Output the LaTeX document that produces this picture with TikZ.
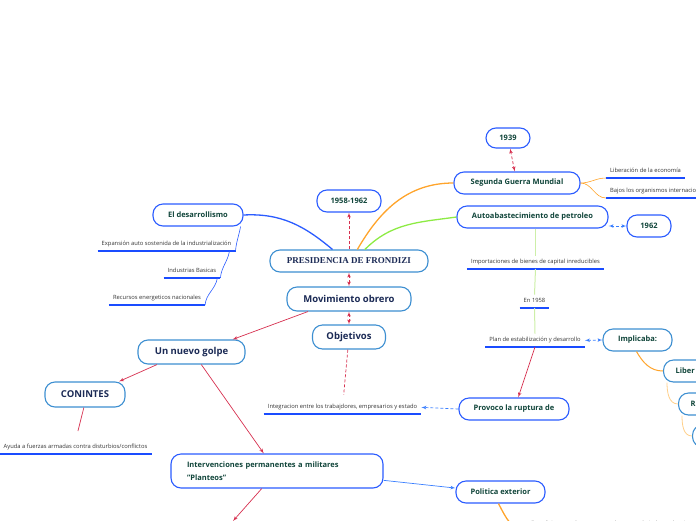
\documentclass[tikz,border=0pt]{standalone}
\usepackage{fontspec}
\setmainfont{Open Sans}
\newfontfamily\presfont{Liberation Serif}
\usepackage{tikz}
\usetikzlibrary{arrows}

\definecolor{boxblue}{HTML}{2B5CFF}
\definecolor{lightblue}{HTML}{3D8FD1}
\definecolor{darkgreen}{HTML}{10453A}
\definecolor{navy}{HTML}{1B2A55}
\definecolor{redline}{HTML}{D6304F}
\definecolor{orangeline}{HTML}{FFA42B}
\definecolor{paleorange}{HTML}{FFD08A}
\definecolor{greenline}{HTML}{8DEB44}
\definecolor{palegreen}{HTML}{CDEFA8}
\definecolor{ulblue}{HTML}{1A4CFF}
\definecolor{linkblue}{HTML}{3A7FFF}

\begin{document}
\begin{tikzpicture}[x=1pt, y=-1pt]
			\tikzset{topic/.style={draw=boxblue, line width=1.1pt, rounded corners=10pt, fill=white, minimum height=22pt, inner sep=2pt, text=darkgreen, font=\fontsize{7.5}{9}\selectfont\bfseries}}
			\tikzset{topicb/.style={topic, draw=lightblue}}
			\tikzset{main/.style={topic, draw=lightblue, text=navy, minimum height=24pt, font=\fontsize{9.5}{11}\selectfont\bfseries}}
			\tikzset{note/.style={inner xsep=4pt, inner ysep=3.6pt, text height=4.4pt, text depth=1.3pt, text=black!80, font=\fontsize{5.8}{7}\selectfont,
					append after command={(\tikzlastnode.south west) edge[draw=ulblue, line width=1.4pt] (\tikzlastnode.south east)}}}
			\tikzset{branch/.style={line width=1.3pt}}
			\tikzset{twig/.style={line width=0.6pt}}
			\tikzset{link/.style={->, >=latex', redline, line width=0.7pt}}
			\tikzset{dashlink/.style={link, dash pattern=on 3pt off 2pt}}
			\useasboundingbox (0,0) rectangle (696,520);
			%vertices
			\node[main, minimum width=158pt, minimum height=22pt, font=\fontsize{9}{10}\selectfont\presfont\bfseries] (pres) at (349,261) {PRESIDENCIA DE FRONDIZI};
			\node[topic, minimum width=64pt] (years) at (349,201) {1958-1962};
			\node[main, minimum width=124pt] (obrero) at (349,299) {Movimiento obrero};
			\node[main, minimum width=73pt] (objetivos) at (349,337) {Objetivos};
			\node[topic, minimum width=90pt] (desarrollismo) at (198,215) {El desarrollismo};
			\node[note, anchor=south] (expansion) at (166.5,251) {Expansión auto sostenida de la industrialización};
			\node[note, anchor=south] (industrias) at (192,278) {Industrias Basicas};
			\node[note, anchor=south] (recursos) at (157,305) {Recursos energeticos nacionales};
			\node[topic, minimum width=44pt, minimum height=20pt] (y1939) at (508,138) {1939};
			\node[topic, minimum width=126pt] (guerra) at (517,183) {Segunda Guerra Mundial};
			\node[note, anchor=south west] (liberacion) at (606,178) {Liberación de la economía};
			\node[note, anchor=south west] (bajos) at (606,198) {Bajos los organismos internacionales};
			\node[topic, minimum width=151pt] (petroleo) at (532.5,217) {Autoabastecimiento de petroleo};
			\node[topic, minimum width=44pt] (y1962) at (649,226) {1962};
			\node[note, anchor=south] (importaciones) at (535.5,269) {Importaciones de bienes de capital inreducibles};
			\node[note, anchor=south] (en1958) at (534.5,308) {En 1958};
			\node[note, anchor=south] (plan) at (535,347) {Plan de estabilización y desarrollo};
			\node[topicb, minimum width=69pt] (implicaba) at (637.5,340) {Implicaba:};
			\node[topicb, anchor=west, text width=60pt, inner xsep=12pt, align=left] (liber) at (663,371) {Liber};
			\node[topicb, anchor=west, text width=60pt, inner xsep=12pt, align=left] (radic) at (678,404) {R};
			\node[topicb, anchor=west, minimum width=80pt] (third) at (692,436) {};
			\node[topic, minimum width=110pt] (ruptura) at (514,409) {Provoco la ruptura de};
			\node[note, anchor=south] (integracion) at (342.5,414) {Integracion entre los trabajdores, empresarios y estado};
			\node[main, minimum width=107pt] (golpe) at (191.5,352) {Un nuevo golpe};
			\node[main, minimum width=80pt, minimum height=25pt] (conintes) at (85,394.5) {CONINTES};
			\node[note, anchor=south] (ayuda) at (75.5,454) {Ayuda a fuerzas armadas contra disturbios/conflictos};
			\node[topic, text width=180pt, inner xsep=16pt, minimum height=34pt, align=left, font=\fontsize{7.5}{12.5}\selectfont\bfseries] (planteos) at (277,471) {Intervenciones permanentes a militares\\"Planteos"};
			\node[topic, minimum width=89pt] (exterior) at (500.5,492) {Politica exterior};
			\node[note, anchor=south west] (frondizi) at (527,531) {Frondizi procuraba mantener el margen de independencia};
			\coordinate (lowend) at (233,521);
			%edges
			\draw[branch, boxblue] (desarrollismo.east) to[out=3, in=140] (pres.145);
			\draw[branch, orangeline] (pres.54) to[out=60, in=180] (guerra.west);
			\draw[branch, greenline] (pres.36) to[out=45, in=188] (petroleo.west);
			\draw[twig, boxblue] ([xshift=-3pt]desarrollismo.south east) to[out=-100, in=85] (expansion.south east);
			\draw[twig, boxblue] ([xshift=-6pt]expansion.south east) to[out=-100, in=85] (industrias.south east);
			\draw[twig, boxblue] ([xshift=-3pt]industrias.south east) to[out=-100, in=85] (recursos.south east);
			\draw[dashlink] (pres) -- (years);
			\draw[dashlink, <->] (pres) -- (obrero);
			\draw[dashlink, <->] (obrero) -- (objetivos);
			\draw[dashlink, -, shorten >=6pt] (objetivos) -- (integracion);
			\draw[dashlink, <->] (y1939) -- (guerra);
			\draw[twig, orangeline] (guerra.east) to[out=0, in=180] (liberacion.south west);
			\draw[twig, orangeline] (guerra.east) to[out=0, in=180] (bajos.south west);
			\draw[dashlink, <->, linkblue] (petroleo.east |- y1962.west) -- (y1962.west);
			\draw[twig, palegreen, line width=1pt] (petroleo.south -| importaciones.north) -- (importaciones.north);
			\draw[twig, palegreen, line width=1pt] (importaciones.south) -- (en1958.north);
			\draw[twig, palegreen, line width=1pt] (en1958.south) -- (plan.north);
			\draw[dashlink, <->, linkblue] (plan.east) -- (implicaba.west);
			\draw[branch, orangeline, line width=1pt] (implicaba.-95) to[out=-60, in=180] (liber.west);
			\draw[twig, paleorange, line width=0.8pt] ([xshift=4pt]liber.south west) to[out=-90, in=180] (radic.west);
			\draw[twig, paleorange, line width=0.8pt] ([xshift=4pt]radic.south west) to[out=-90, in=180] (third.west);
			\draw[link] (plan.south) -- (ruptura.70);
			\draw[dashlink, linkblue] (ruptura.west) -- (integracion.east);
			\draw[link] (obrero.197) -- (golpe.17);
			\draw[link] (golpe.200) -- (conintes.21);
			\draw[link, -, shorten >=10pt] (conintes.-95) -- (ayuda.north);
			\draw[link] (golpe.-52) -- (planteos.127);
			\draw[link, linkblue] (planteos.-5) -- (exterior.175);
			\draw[link] (planteos.229) -- (lowend);
			\draw[branch, orangeline] (exterior.-100) to[out=-62, in=180] (frondizi.south west);
\end{tikzpicture}
\end{document}
